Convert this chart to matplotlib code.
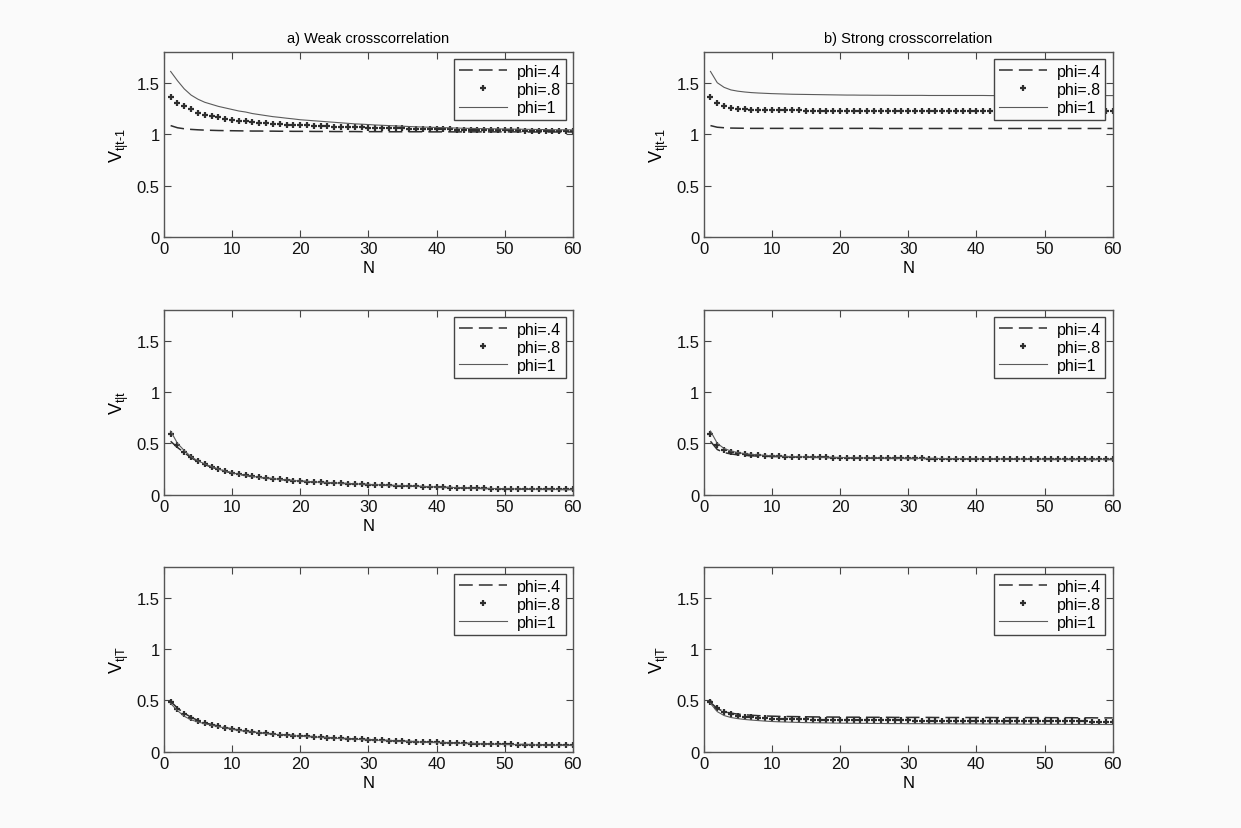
import matplotlib
matplotlib.use('Agg')
import matplotlib.pyplot as plt

# Number of observations on the x axis
N = list(range(1, 61))

# Panel a) weak crosscorrelation, V t|t-1
weak_pred_04 = [1.083, 1.062, 1.052, 1.046, 1.042, 1.039, 1.037, 1.035, 1.034, 1.033,
                1.032, 1.031, 1.030, 1.030, 1.029, 1.029, 1.028, 1.028, 1.027, 1.027,
                1.027, 1.026, 1.026, 1.026, 1.025, 1.025, 1.025, 1.025, 1.024, 1.024,
                1.024, 1.024, 1.023, 1.023, 1.023, 1.023, 1.023, 1.023, 1.022, 1.022,
                1.022, 1.022, 1.022, 1.022, 1.022, 1.022, 1.022, 1.022, 1.022, 1.022,
                1.022, 1.022, 1.021, 1.021, 1.021, 1.021, 1.021, 1.021, 1.021, 1.021]
weak_pred_08 = [1.365, 1.300, 1.270, 1.240, 1.210, 1.190, 1.175, 1.162, 1.150, 1.140,
                1.132, 1.124, 1.118, 1.112, 1.106, 1.101, 1.097, 1.093, 1.090, 1.087,
                1.084, 1.082, 1.079, 1.077, 1.074, 1.072, 1.070, 1.068, 1.066, 1.064,
                1.062, 1.060, 1.059, 1.057, 1.056, 1.054, 1.053, 1.051, 1.050, 1.049,
                1.047, 1.046, 1.045, 1.044, 1.043, 1.042, 1.041, 1.040, 1.039, 1.038,
                1.037, 1.036, 1.035, 1.035, 1.034, 1.033, 1.032, 1.031, 1.030, 1.030]
weak_pred_1 = [1.610, 1.520, 1.440, 1.380, 1.340, 1.310, 1.290, 1.270, 1.255, 1.240,
               1.225, 1.215, 1.200, 1.190, 1.180, 1.170, 1.163, 1.155, 1.148, 1.140,
               1.135, 1.130, 1.125, 1.120, 1.115, 1.110, 1.105, 1.100, 1.097, 1.093,
               1.089, 1.086, 1.083, 1.080, 1.077, 1.074, 1.071, 1.069, 1.067, 1.065,
               1.063, 1.061, 1.059, 1.057, 1.056, 1.054, 1.053, 1.052, 1.051, 1.050,
               1.049, 1.048, 1.047, 1.046, 1.045, 1.044, 1.043, 1.042, 1.042, 1.041]

# Panel b) strong crosscorrelation, V t|t-1
strong_pred_04 = [1.083, 1.067, 1.062, 1.059, 1.058, 1.057, 1.056, 1.056, 1.056, 1.056,
                  1.056, 1.056, 1.056, 1.056, 1.056, 1.056, 1.056, 1.056, 1.056, 1.056,
                  1.056, 1.056, 1.056, 1.056, 1.056, 1.055, 1.055, 1.055, 1.055, 1.055,
                  1.055, 1.055, 1.055, 1.055, 1.055, 1.055, 1.055, 1.055, 1.055, 1.055,
                  1.055, 1.055, 1.055, 1.055, 1.055, 1.055, 1.055, 1.055, 1.055, 1.055,
                  1.055, 1.055, 1.055, 1.055, 1.055, 1.055, 1.055, 1.055, 1.055, 1.055]
strong_pred_08 = [1.365, 1.300, 1.270, 1.255, 1.247, 1.242, 1.238, 1.236, 1.234, 1.233,
                  1.232, 1.231, 1.230, 1.230, 1.229, 1.229, 1.229, 1.228, 1.228, 1.228,
                  1.228, 1.228, 1.228, 1.228, 1.228, 1.228, 1.228, 1.228, 1.228, 1.228,
                  1.227, 1.227, 1.227, 1.227, 1.227, 1.227, 1.227, 1.227, 1.227, 1.227,
                  1.227, 1.227, 1.227, 1.227, 1.227, 1.227, 1.227, 1.227, 1.227, 1.227,
                  1.227, 1.227, 1.227, 1.227, 1.227, 1.227, 1.227, 1.227, 1.227, 1.227]
strong_pred_1 = [1.610, 1.500, 1.455, 1.430, 1.418, 1.410, 1.404, 1.400, 1.397, 1.394,
                 1.392, 1.390, 1.388, 1.387, 1.386, 1.385, 1.384, 1.383, 1.382, 1.381,
                 1.380, 1.380, 1.379, 1.379, 1.378, 1.378, 1.378, 1.377, 1.377, 1.377,
                 1.377, 1.377, 1.376, 1.376, 1.376, 1.376, 1.376, 1.376, 1.376, 1.376,
                 1.376, 1.375, 1.375, 1.375, 1.375, 1.375, 1.375, 1.375, 1.375, 1.375,
                 1.375, 1.375, 1.375, 1.375, 1.375, 1.375, 1.375, 1.375, 1.375, 1.375]

# Panel a) V t|t
weak_filt_04 = [0.520, 0.460, 0.410, 0.360, 0.322, 0.293, 0.269, 0.247, 0.228, 0.212,
                0.199, 0.188, 0.178, 0.169, 0.162, 0.155, 0.149, 0.143, 0.137, 0.132,
                0.128, 0.124, 0.120, 0.117, 0.114, 0.111, 0.108, 0.105, 0.102, 0.099,
                0.096, 0.094, 0.091, 0.089, 0.087, 0.084, 0.082, 0.079, 0.077, 0.074,
                0.072, 0.070, 0.068, 0.066, 0.064, 0.062, 0.061, 0.059, 0.058, 0.057,
                0.056, 0.055, 0.054, 0.054, 0.053, 0.053, 0.052, 0.052, 0.051, 0.051]
weak_filt_08 = [0.587, 0.486, 0.420, 0.363, 0.324, 0.295, 0.270, 0.248, 0.229, 0.212,
                0.199, 0.188, 0.178, 0.169, 0.162, 0.155, 0.149, 0.143, 0.137, 0.132,
                0.128, 0.124, 0.120, 0.117, 0.114, 0.111, 0.108, 0.105, 0.102, 0.099,
                0.096, 0.094, 0.091, 0.089, 0.087, 0.084, 0.082, 0.079, 0.077, 0.074,
                0.072, 0.070, 0.068, 0.066, 0.064, 0.062, 0.061, 0.059, 0.058, 0.057,
                0.056, 0.055, 0.054, 0.054, 0.053, 0.053, 0.052, 0.052, 0.051, 0.051]
weak_filt_1 = [0.620, 0.500, 0.430, 0.370, 0.330, 0.300, 0.273, 0.250, 0.230, 0.213,
               0.200, 0.189, 0.179, 0.170, 0.163, 0.156, 0.150, 0.144, 0.138, 0.133,
               0.129, 0.125, 0.121, 0.118, 0.115, 0.112, 0.109, 0.106, 0.103, 0.100,
               0.097, 0.095, 0.092, 0.090, 0.088, 0.085, 0.083, 0.080, 0.078, 0.075,
               0.073, 0.071, 0.069, 0.067, 0.065, 0.063, 0.062, 0.060, 0.059, 0.058,
               0.057, 0.056, 0.055, 0.055, 0.054, 0.054, 0.053, 0.053, 0.052, 0.052]

# Panel b) V t|t
strong_filt_04 = [0.520, 0.440, 0.410, 0.397, 0.388, 0.383, 0.379, 0.376, 0.374, 0.372,
                  0.371, 0.370, 0.368, 0.367, 0.366, 0.364, 0.363, 0.362, 0.361, 0.360,
                  0.359, 0.358, 0.357, 0.356, 0.356, 0.355, 0.354, 0.354, 0.353, 0.353,
                  0.352, 0.352, 0.351, 0.351, 0.350, 0.350, 0.349, 0.349, 0.348, 0.348,
                  0.347, 0.347, 0.347, 0.346, 0.346, 0.346, 0.345, 0.345, 0.345, 0.344,
                  0.344, 0.344, 0.344, 0.343, 0.343, 0.343, 0.343, 0.343, 0.343, 0.343]
strong_filt_08 = [0.587, 0.480, 0.440, 0.418, 0.405, 0.396, 0.390, 0.386, 0.381, 0.377,
                  0.374, 0.372, 0.370, 0.368, 0.367, 0.365, 0.364, 0.363, 0.362, 0.361,
                  0.360, 0.359, 0.358, 0.357, 0.357, 0.356, 0.355, 0.355, 0.354, 0.354,
                  0.353, 0.353, 0.352, 0.352, 0.351, 0.351, 0.350, 0.350, 0.349, 0.349,
                  0.348, 0.348, 0.348, 0.347, 0.347, 0.347, 0.346, 0.346, 0.346, 0.345,
                  0.345, 0.345, 0.345, 0.344, 0.344, 0.344, 0.344, 0.344, 0.344, 0.344]
strong_filt_1 = [0.620, 0.500, 0.450, 0.425, 0.410, 0.400, 0.393, 0.388, 0.383, 0.379,
                 0.376, 0.373, 0.371, 0.369, 0.368, 0.366, 0.365, 0.364, 0.363, 0.362,
                 0.361, 0.360, 0.359, 0.358, 0.358, 0.357, 0.356, 0.356, 0.355, 0.355,
                 0.354, 0.354, 0.353, 0.353, 0.352, 0.352, 0.351, 0.351, 0.350, 0.350,
                 0.349, 0.349, 0.349, 0.348, 0.348, 0.348, 0.347, 0.347, 0.347, 0.346,
                 0.346, 0.346, 0.346, 0.345, 0.345, 0.345, 0.345, 0.345, 0.345, 0.345]

# Panel a) V t|T
weak_smooth_04 = [0.490, 0.425, 0.375, 0.335, 0.305, 0.282, 0.265, 0.249, 0.235, 0.222,
                  0.211, 0.201, 0.193, 0.186, 0.179, 0.173, 0.168, 0.163, 0.158, 0.154,
                  0.150, 0.146, 0.142, 0.138, 0.134, 0.131, 0.127, 0.124, 0.121, 0.118,
                  0.115, 0.112, 0.109, 0.106, 0.103, 0.100, 0.098, 0.095, 0.093, 0.091,
                  0.089, 0.087, 0.085, 0.083, 0.081, 0.079, 0.077, 0.076, 0.074, 0.073,
                  0.072, 0.071, 0.070, 0.069, 0.068, 0.067, 0.066, 0.065, 0.064, 0.063]
weak_smooth_08 = [0.486, 0.418, 0.370, 0.330, 0.302, 0.280, 0.264, 0.248, 0.234, 0.221,
                  0.210, 0.200, 0.192, 0.185, 0.178, 0.172, 0.167, 0.162, 0.157, 0.153,
                  0.149, 0.145, 0.141, 0.137, 0.133, 0.130, 0.126, 0.123, 0.120, 0.117,
                  0.114, 0.111, 0.108, 0.105, 0.102, 0.099, 0.097, 0.094, 0.092, 0.090,
                  0.088, 0.086, 0.084, 0.082, 0.080, 0.078, 0.076, 0.075, 0.073, 0.072,
                  0.071, 0.070, 0.069, 0.068, 0.067, 0.066, 0.065, 0.064, 0.063, 0.062]
weak_smooth_1 = [0.470, 0.400, 0.345, 0.310, 0.290, 0.272, 0.258, 0.244, 0.231, 0.219,
                 0.208, 0.199, 0.191, 0.184, 0.177, 0.171, 0.166, 0.161, 0.156, 0.152,
                 0.148, 0.144, 0.140, 0.136, 0.132, 0.129, 0.125, 0.122, 0.119, 0.116,
                 0.113, 0.110, 0.107, 0.104, 0.101, 0.098, 0.096, 0.093, 0.091, 0.089,
                 0.087, 0.085, 0.083, 0.081, 0.079, 0.077, 0.075, 0.074, 0.072, 0.071,
                 0.070, 0.069, 0.068, 0.067, 0.066, 0.065, 0.064, 0.063, 0.062, 0.061]

# Panel b) V t|T
strong_smooth_04 = [0.480, 0.420, 0.390, 0.375, 0.366, 0.360, 0.355, 0.351, 0.348, 0.346,
                    0.344, 0.343, 0.342, 0.341, 0.340, 0.339, 0.338, 0.338, 0.337, 0.337,
                    0.336, 0.336, 0.336, 0.335, 0.335, 0.335, 0.335, 0.334, 0.334, 0.334,
                    0.334, 0.334, 0.334, 0.333, 0.333, 0.333, 0.333, 0.333, 0.333, 0.333,
                    0.333, 0.333, 0.332, 0.332, 0.332, 0.332, 0.332, 0.332, 0.332, 0.332,
                    0.331, 0.331, 0.331, 0.331, 0.330, 0.330, 0.330, 0.329, 0.329, 0.329]
strong_smooth_08 = [0.486, 0.425, 0.386, 0.363, 0.350, 0.342, 0.336, 0.331, 0.327, 0.323,
                    0.320, 0.318, 0.316, 0.315, 0.314, 0.313, 0.312, 0.311, 0.310, 0.309,
                    0.308, 0.307, 0.307, 0.306, 0.306, 0.305, 0.305, 0.304, 0.304, 0.304,
                    0.303, 0.303, 0.303, 0.303, 0.302, 0.302, 0.302, 0.302, 0.302, 0.301,
                    0.301, 0.301, 0.301, 0.300, 0.300, 0.300, 0.300, 0.299, 0.299, 0.299,
                    0.298, 0.298, 0.297, 0.297, 0.296, 0.295, 0.294, 0.293, 0.293, 0.292]
strong_smooth_1 = [0.470, 0.390, 0.352, 0.333, 0.322, 0.314, 0.308, 0.303, 0.298, 0.294,
                   0.291, 0.289, 0.287, 0.285, 0.283, 0.282, 0.281, 0.280, 0.279, 0.278,
                   0.277, 0.277, 0.276, 0.276, 0.275, 0.275, 0.274, 0.274, 0.274, 0.273,
                   0.273, 0.273, 0.272, 0.272, 0.272, 0.272, 0.271, 0.271, 0.271, 0.271,
                   0.270, 0.270, 0.270, 0.269, 0.269, 0.269, 0.268, 0.268, 0.268, 0.267,
                   0.267, 0.267, 0.266, 0.266, 0.266, 0.266, 0.265, 0.265, 0.265, 0.265]

legend_labels = ['phi=.4', 'phi=.8', 'phi=1']
col_titles = ['a) Weak crosscorrelation', 'b) Strong crosscorrelation']

plt.rcParams['font.family'] = ['Liberation Sans', 'DejaVu Sans']
plt.rcParams['mathtext.fontset'] = 'custom'
plt.rcParams['mathtext.rm'] = 'Liberation Sans'
plt.rcParams['mathtext.it'] = 'Liberation Sans'

bg = '#fafafa'
dark = '#2e2e2e'
grey = '#5a5a5a'

fig = plt.figure(figsize=(12.41, 8.29), dpi=100, facecolor=bg)

# axes positions in figure fractions: two columns, three rows
lefts = [0.132, 0.567]
bottoms = [0.713, 0.402, 0.092]
width = 0.3296
height = 0.2232

# each row holds (weak series, strong series, y label)
rows = [
    ((weak_pred_04, weak_pred_08, weak_pred_1),
     (strong_pred_04, strong_pred_08, strong_pred_1), r'$\mathregular{V_{t|t\text{-}1}}$'),
    ((weak_filt_04, weak_filt_08, weak_filt_1),
     (strong_filt_04, strong_filt_08, strong_filt_1), r'$\mathregular{V_{t|t}}$'),
    ((weak_smooth_04, weak_smooth_08, weak_smooth_1),
     (strong_smooth_04, strong_smooth_08, strong_smooth_1), r'$\mathregular{V_{t|T}}$'),
]

for r, (weak, strong, ylab) in enumerate(rows):
    for c, series in enumerate([weak, strong]):
        ax = fig.add_axes([lefts[c], bottoms[r], width, height])
        ax.set_facecolor(bg)

        s04, s08, s1 = series
        l1, = ax.plot(N, s04, color=dark, lw=1.1, linestyle='--', dashes=(9, 4))
        l2, = ax.plot(N, s08, color=dark, lw=0, marker='+', markersize=4,
                      markeredgewidth=1.6)
        l3, = ax.plot(N, s1, color=grey, lw=0.8)

        ax.set_xlim(0, 60)
        ax.set_ylim(0, 1.8)
        ax.set_xticks([0, 10, 20, 30, 40, 50, 60])
        ax.set_yticks([0, 0.5, 1, 1.5])
        ax.set_yticklabels(['0', '0.5', '1', '1.5'])
        ax.tick_params(direction='in', length=5, width=0.8, color='#444444',
                       top=True, right=True, labelsize=12, pad=3,
                       labelcolor='#111111')
        for sp in ax.spines.values():
            sp.set_color('#555555')
            sp.set_linewidth(1.0)

        # the middle panel on the right carries no axis labels
        if not (r == 1 and c == 1):
            ax.set_xlabel('N', fontsize=12, labelpad=3)
            ax.set_ylabel(ylab, fontsize=13, labelpad=4)
        if r == 0:
            ax.set_title(col_titles[c], fontsize=10.5, pad=7)

        leg = ax.legend([l1, l2, l3], legend_labels, loc='upper right',
                        fontsize=11.5, handlelength=3.0, handletextpad=0.6,
                        borderaxespad=0.45, borderpad=0.3, labelspacing=0.2,
                        fancybox=False, framealpha=1, edgecolor='#444444')
        leg.get_frame().set_facecolor(bg)
        leg.get_frame().set_linewidth(1.0)

fig.savefig('out.png', dpi=100, facecolor=bg)
